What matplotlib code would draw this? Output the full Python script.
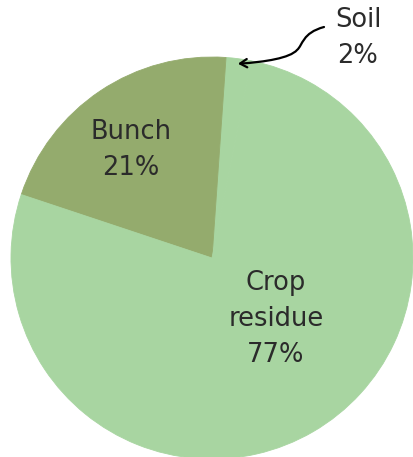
import matplotlib.pyplot as plt
from matplotlib.patches import FancyArrowPatch
from matplotlib.path import Path
import numpy as np

# dados do gráfico
categorias = ['Soil', 'Bunch', 'Crop residue']
valores = [2, 21, 77]
rotulos = ['Soil\n2%', 'Bunch\n21%', 'Crop\nresidue\n77%']
cores = ['#a8d5a1', '#94ab6d', '#a8d5a1']

# escala: 201 px por unidade, centro da pizza em (212, 258) px
PX = 201.0
CX, CY = 212, 258
W, H = 414, 457


def px2d(x, y):
    """converte pixel (origem no topo) para coordenadas de dados"""
    return (x - CX) / PX, (CY - y) / PX


fig = plt.figure(figsize=(W / 100, H / 100), dpi=100)
ax = fig.add_axes([0, 0, 1, 1])

wedges, _ = ax.pie(valores, colors=cores, startangle=78.8, counterclock=True,
                   radius=1.0)
# borda com a mesma cor do preenchimento para esconder as emendas
for wd, c in zip(wedges, cores):
    wd.set_edgecolor(c)
    wd.set_linewidth(0.6)

ax.set_xlim(-CX / PX, (W - CX) / PX)
ax.set_ylim(-(H - CY) / PX, CY / PX)
ax.set_aspect('auto')
ax.axis('off')

cor_texto = '#2b2b2b'
fs = 18.5
ls = 1.52

# rótulos internos
ax.text(*px2d(131, 150), rotulos[1], ha='center', va='center',
        fontsize=fs, color=cor_texto, linespacing=ls)
ax.text(*px2d(276, 319), rotulos[2], ha='center', va='center',
        fontsize=fs, color=cor_texto, linespacing=ls)

# rótulo externo do solo
ax.text(*px2d(358, 38), rotulos[0], ha='center', va='center',
        fontsize=fs, color=cor_texto, linespacing=ls)

# seta curva apontando para a fatia do solo
w = wedges[0]
ang = np.deg2rad((w.theta1 + w.theta2) / 2)
tip = (0.975 * np.cos(ang), 0.975 * np.sin(ang))
verts = [px2d(324, 27), px2d(302, 33), px2d(303, 45), px2d(297, 50),
         px2d(290, 58), px2d(265, 62), tip]
codes = [Path.MOVETO, Path.CURVE4, Path.CURVE4, Path.CURVE4,
         Path.CURVE4, Path.CURVE4, Path.CURVE4]
seta = FancyArrowPatch(path=Path(verts, codes), arrowstyle='->,head_length=5,head_width=3',
                       color='black', linewidth=1.6)
ax.add_patch(seta)

plt.savefig('out.png', dpi=100)
